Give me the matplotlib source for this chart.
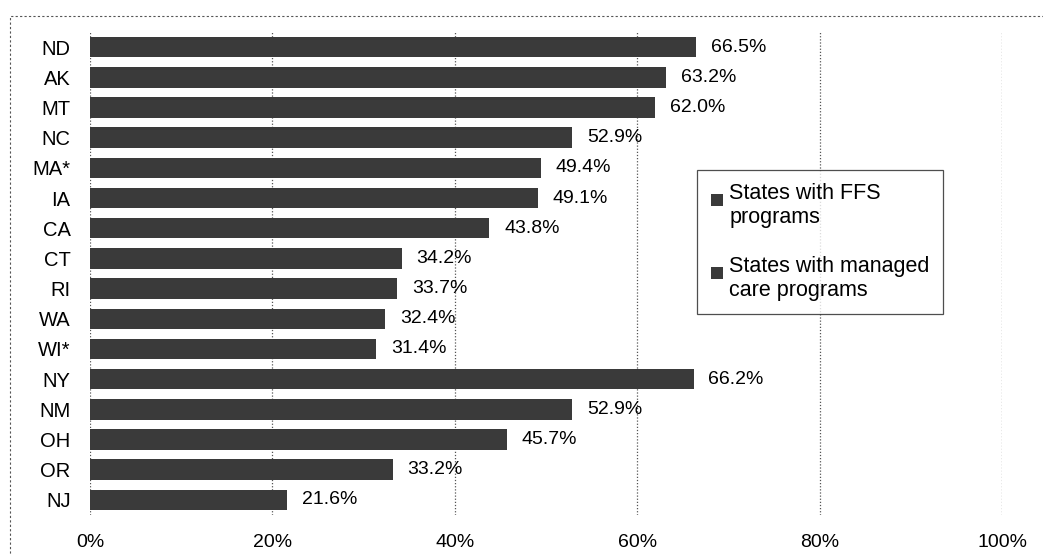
import matplotlib.pyplot as plt
from matplotlib.patches import Rectangle, Patch
from matplotlib.legend_handler import HandlerPatch

plt.rcParams['font.family'] = ['Liberation Sans', 'DejaVu Sans']

# share of enrollees, by state and program type
ffs_states = ["ND", "AK", "MT", "NC", "MA*", "IA", "CA", "CT", "RI", "WA", "WI*"]
ffs_values = [66.5, 63.2, 62.0, 52.9, 49.4, 49.1, 43.8, 34.2, 33.7, 32.4, 31.4]
mc_states = ["NY", "NM", "OH", "OR", "NJ"]
mc_values = [66.2, 52.9, 45.7, 33.2, 21.6]
x_ticks = [0, 20, 40, 60, 80, 100]

bar_color = "#3a3a3a"
fs = 14
n = len(ffs_states) + len(mc_states)

fig = plt.figure(figsize=(10.43, 5.54), dpi=100)
ax = fig.add_axes([0.0863, 0.0704, 0.8744, 0.8718])

# rows are numbered from the bottom so the first state lands on top
ffs_y = [n - 1 - i for i in range(len(ffs_states))]
mc_y = [n - 1 - len(ffs_states) - i for i in range(len(mc_states))]

ax.barh(ffs_y, ffs_values, height=0.68, color=bar_color, zorder=3)
ax.barh(mc_y, mc_values, height=0.68, color=bar_color, zorder=3)

for y, v in zip(ffs_y + mc_y, ffs_values + mc_values):
    ax.text(v + 1.6, y, f"{v:.1f}%", va="center", ha="left", fontsize=fs)

ax.set_xlim(0, 100)
ax.set_ylim(-0.5, n - 0.5)
ax.set_xticks(x_ticks)
ax.set_xticklabels([f"{t}%" for t in x_ticks], fontsize=fs)
ax.set_yticks(ffs_y + mc_y)
ax.set_yticklabels(ffs_states + mc_states, fontsize=14.5)
ax.tick_params(axis="x", length=0, pad=14)
ax.tick_params(axis="y", length=0, pad=14)
for s in ax.spines.values():
    s.set_visible(False)
ax.xaxis.grid(True, color="#555555", linestyle=(0, (1, 1.5)), linewidth=0.9, zorder=0)


# legend key: small square sitting next to the first line of a two-line label
def top_square(legend, orig_handle, xdescent, ydescent, width, height, fontsize):
    side = 0.55 * fontsize
    return Rectangle((-xdescent + width - side, -ydescent + height - side * 1.45),
                     side, side)


handles = [Patch(facecolor=bar_color, label="States with FFS\nprograms"),
           Patch(facecolor=bar_color, label="States with managed\ncare programs")]
leg = ax.legend(handles=handles, loc="upper left",
                bbox_to_anchor=(697 / 1043, 1 - 170 / 554), bbox_transform=fig.transFigure,
                fontsize=15.5, frameon=True, fancybox=False, edgecolor="#222222",
                handlelength=0.6, handleheight=2.2, handletextpad=0.3,
                labelspacing=1.3, borderpad=0.6, borderaxespad=0,
                handler_map={Patch: HandlerPatch(patch_func=top_square)})
leg.get_frame().set_linewidth(0.9)
for t in leg.get_texts():
    t.set_linespacing(1.2)

# dotted outer frame around the chart area
fig.patches.append(Rectangle((10 / 1043, -0.05), 1.2, 1 - 16 / 554 + 0.05,
                             transform=fig.transFigure, fill=False,
                             edgecolor="#555555", linestyle=(0, (2, 2)), linewidth=0.8))

fig.savefig("out.png", dpi=100)
